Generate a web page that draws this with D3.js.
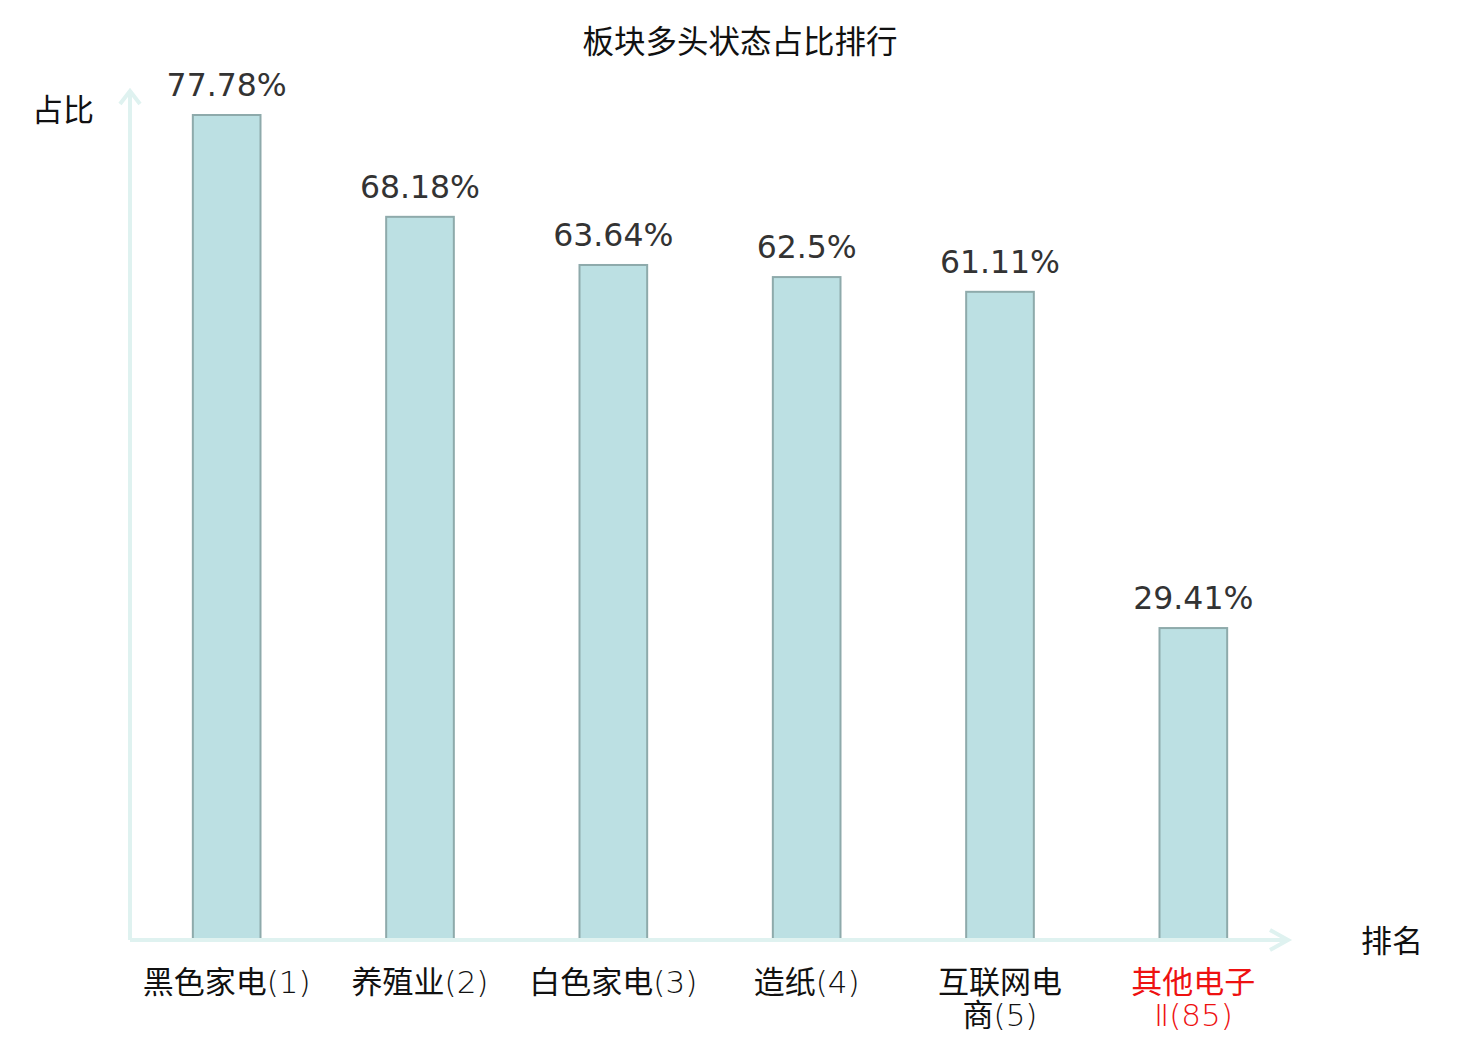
<!DOCTYPE html>
<html>
<head>
<meta charset="utf-8">
<script src="https://cdn.jsdelivr.net/npm/d3@7"></script>
<style>
  body { margin: 0; background: #fff; }
  text { font-family: "Noto Sans CJK SC", "DejaVu Sans", sans-serif; }
</style>
</head>
<body>
<svg width="1480" height="1040"></svg>
<script>
// chart data
const names = ["黑色家电", "养殖业", "白色家电", "造纸", "互联网电|商", "其他电子|Ⅱ"];
const ranks = [1, 2, 3, 4, 5, 85];
const values = [77.78, 68.18, 63.64, 62.5, 61.11, 29.41];
const labels = ["77.78%", "68.18%", "63.64%", "62.5%", "61.11%", "29.41%"];
const highlight = [false, false, false, false, false, true];

const svg = d3.select("svg");
const axisColor = "#dff2f0";
const x0 = 130, x1 = 1290, yBase = 940, yTop = 115;

const x = d3.scaleBand()
  .domain(d3.range(values.length))
  .range([x0, x1])
  .paddingInner(0.65)
  .paddingOuter(0.325);

const y = d3.scaleLinear()
  .domain([0, d3.max(values)])
  .range([yBase, yTop]);

// title
svg.append("text")
  .attr("x", 740)
  .attr("y", 53)
  .attr("text-anchor", "middle")
  .style("font-size", "31.5px")
  .style("fill", "#111")
  .text("板块多头状态占比排行");

// bars
svg.selectAll("rect.bar")
  .data(values)
  .enter()
  .append("rect")
  .attr("class", "bar")
  .attr("x", (d, i) => x(i))
  .attr("y", d => y(d))
  .attr("width", x.bandwidth())
  .attr("height", d => yBase - y(d))
  .style("fill", "#bce0e3")
  .style("stroke", "#8eaaab")
  .style("stroke-width", 2);

// value labels
svg.selectAll("text.val")
  .data(values)
  .enter()
  .append("text")
  .attr("class", "val")
  .attr("x", (d, i) => x(i) + x.bandwidth() / 2)
  .attr("y", d => y(d) - 19)
  .attr("text-anchor", "middle")
  .style("font-family", "'DejaVu Sans', sans-serif")
  .style("font-size", "31.5px")
  .style("fill", "#333")
  .text((d, i) => labels[i]);

// axes
svg.append("line")
  .attr("x1", x0).attr("y1", yBase)
  .attr("x2", x0).attr("y2", 92)
  .style("stroke", axisColor).style("stroke-width", 4);
svg.append("path")
  .attr("d", `M${x0 - 10},104 L${x0},91 L${x0 + 10},104`)
  .style("fill", "none").style("stroke", axisColor).style("stroke-width", 4);

svg.append("line")
  .attr("x1", x0).attr("y1", yBase)
  .attr("x2", x1 - 2).attr("y2", yBase)
  .style("stroke", axisColor).style("stroke-width", 4);
svg.append("path")
  .attr("d", `M${x1 - 20},${yBase - 10} L${x1 - 2},${yBase} L${x1 - 20},${yBase + 10}`)
  .style("fill", "none").style("stroke", axisColor).style("stroke-width", 4);

svg.append("text")
  .attr("x", 63).attr("y", 121)
  .attr("text-anchor", "middle")
  .style("font-size", "31px").style("fill", "#111")
  .text("占比");

svg.append("text")
  .attr("x", 1392).attr("y", 952)
  .attr("text-anchor", "middle")
  .style("font-size", "31px").style("fill", "#111")
  .text("排名");

// category labels, one text per line
names.forEach((n, i) => {
  const parts = n.split("|");
  const cx = x(i) + x.bandwidth() / 2;
  parts.forEach((p, j) => {
    const last = j === parts.length - 1;
    const t = svg.append("text")
      .attr("x", cx)
      .attr("y", 993 + j * 33)
      .attr("text-anchor", "middle")
      .style("font-size", "31px")
      .style("fill", highlight[i] ? "#ee1111" : "#111");
    const isLatin = /^[Ⅱ]+$/.test(p);
    const main = t.append("tspan").text(p);
    if (isLatin) {
      main.style("font-family", "'DejaVu Sans', sans-serif").style("font-weight", 200);
    }
    if (last) {
      t.append("tspan")
        .style("font-family", "'DejaVu Sans', sans-serif")
        .style("font-weight", 200)
        .text("(" + ranks[i] + ")");
    }
  });
});
</script>
</body>
</html>
